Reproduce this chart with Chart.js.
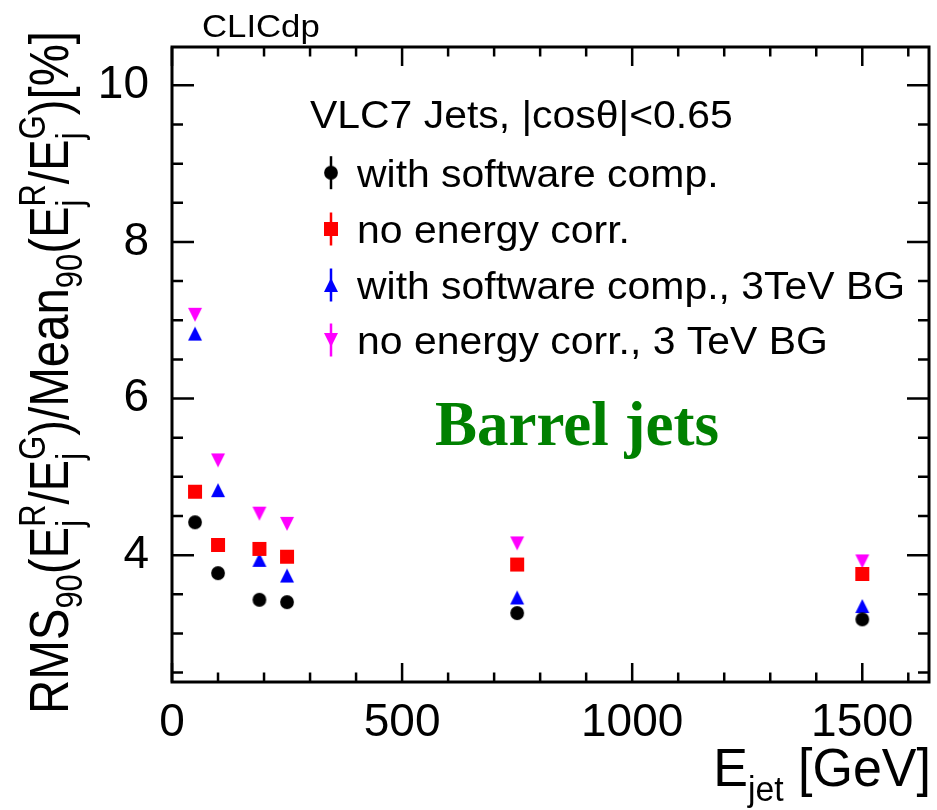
<!DOCTYPE html>
<html>
<head>
<meta charset="utf-8">
<script src="https://cdn.jsdelivr.net/npm/chart.js@4.4.1/dist/chart.umd.min.js"></script>
<style>
  html, body { margin: 0; padding: 0; background: #ffffff; }
  canvas { display: block; }
</style>
</head>
<body>
<canvas id="chart" width="937" height="810"></canvas>
<script>
// Jet energy resolution vs. jet energy, barrel region
const energies = [50, 100, 190, 250, 750, 1500];
const withSoftwareComp = [4.42, 3.77, 3.43, 3.40, 3.26, 3.18];
const noEnergyCorr = [4.81, 4.13, 4.08, 3.98, 3.88, 3.76];
const withSoftwareComp3TeVBG = [6.83, 4.83, 3.94, 3.74, 3.46, 3.35];
const noEnergyCorr3TeVBG = [7.07, 5.21, 4.53, 4.40, 4.15, 3.92];

const seriesLabels = [
  'with software comp.',
  'no energy corr.',
  'with software comp., 3TeV BG',
  'no energy corr., 3 TeV BG'
];
const legendHeader = 'VLC7 Jets, |cos\u03B8|<0.65';
const xTickValues = [0, 500, 1000, 1500];
const yTickValues = [4, 6, 8, 10];

const SANS = '"Liberation Sans", Arial, Helvetica, sans-serif';
const SERIF = '"Liberation Serif", "Times New Roman", serif';

// ROOT-like marker sprites, centred on their bounding box
function makeMarker(shape, color) {
  const s = 18, m = s / 2, h = 7;
  const c = document.createElement('canvas');
  c.width = s; c.height = s;
  const g = c.getContext('2d');
  g.fillStyle = color;
  g.beginPath();
  if (shape === 'circle') {
    g.arc(m, m, 6.9, 0, Math.PI * 2);
  } else if (shape === 'square') {
    g.rect(m - h, m - h, 2 * h, 2 * h);
  } else if (shape === 'up') {
    g.moveTo(m - h, m + h); g.lineTo(m + h, m + h); g.lineTo(m, m - h); g.closePath();
  } else {
    g.moveTo(m - h, m - h); g.lineTo(m + h, m - h); g.lineTo(m, m + h); g.closePath();
  }
  g.fill();
  return c;
}

const seriesStyles = [
  { values: withSoftwareComp,       color: '#000000', marker: makeMarker('circle', '#000000') },
  { values: noEnergyCorr,           color: '#ff0000', marker: makeMarker('square', '#ff0000') },
  { values: withSoftwareComp3TeVBG, color: '#0000ff', marker: makeMarker('up', '#0000ff') },
  { values: noEnergyCorr3TeVBG,     color: '#ff00ff', marker: makeMarker('down', '#ff00ff') }
];

const datasets = seriesStyles.map((s, k) => ({
  label: seriesLabels[k],
  data: energies.map((e, i) => ({ x: e, y: s.values[i] })),
  showLine: false,
  pointStyle: s.marker,
  pointRadius: 8,
  pointHoverRadius: 8,
  backgroundColor: s.color,
  borderColor: s.color,
  borderWidth: 0
}));

// Text with sub/superscripts laid out along +x from the origin (baseline y = 0)
function richWidth(ctx, parts, F, family) {
  let w = 0;
  for (const p of parts) {
    if (p.t !== undefined) {
      ctx.font = (p.sub ? 0.65 * F : F) + 'px ' + family;
      w += ctx.measureText(p.t).width;
    } else {
      ctx.font = (0.65 * F) + 'px ' + family;
      w += Math.max(ctx.measureText(p.sup || '').width, ctx.measureText(p.lo || '').width);
    }
  }
  return w;
}
function richDraw(ctx, parts, F, family, subDrop) {
  let x = 0;
  ctx.textAlign = 'left';
  ctx.textBaseline = 'alphabetic';
  for (const p of parts) {
    if (p.t !== undefined) {
      const sz = p.sub ? 0.65 * F : F;
      ctx.font = sz + 'px ' + family;
      ctx.fillText(p.t, x, p.sub ? subDrop * F : 0);
      x += ctx.measureText(p.t).width;
    } else {
      ctx.font = (0.65 * F) + 'px ' + family;
      if (p.sup) ctx.fillText(p.sup, x, -0.42 * F);
      if (p.lo) ctx.fillText(p.lo, x, subDrop * F);
      x += Math.max(ctx.measureText(p.sup || '').width, ctx.measureText(p.lo || '').width);
    }
  }
}

const yTitleParts = [
  { t: 'RMS' }, { t: '90', sub: true }, { t: '(E' }, { sup: 'R', lo: 'j' }, { t: '/E' }, { sup: 'G', lo: 'j' },
  { t: ')/Mean' }, { t: '90', sub: true }, { t: '(E' }, { sup: 'R', lo: 'j' }, { t: '/E' }, { sup: 'G', lo: 'j' },
  { t: ')[%]' }
];
const xTitleParts = [{ t: 'E' }, { t: 'jet', sub: true }, { t: ' [GeV]' }];

// Frame, inward ticks, legend and annotations
const decorations = {
  id: 'decorations',
  afterDraw(chart) {
    const ctx = chart.ctx;
    const a = chart.chartArea;
    const xs = chart.scales.x, ys = chart.scales.y;
    ctx.save();
    ctx.strokeStyle = '#000';
    ctx.lineCap = 'butt';

    // ticks on all four sides
    ctx.lineWidth = 2.5;
    ctx.beginPath();
    for (let v = 0; v <= xs.max + 1e-9; v += 100) {
      const px = xs.getPixelForValue(v);
      const L = v % 500 === 0 ? 19 : 9.5;
      ctx.moveTo(px, a.bottom); ctx.lineTo(px, a.bottom - L);
      ctx.moveTo(px, a.top); ctx.lineTo(px, a.top + L);
    }
    for (let v = Math.ceil(ys.min * 2) / 2; v <= ys.max + 1e-9; v += 0.5) {
      const py = ys.getPixelForValue(v);
      const L = v % 2 === 0 ? 22 : 11;
      ctx.moveTo(a.left, py); ctx.lineTo(a.left + L, py);
      ctx.moveTo(a.right, py); ctx.lineTo(a.right - L, py);
    }
    ctx.stroke();

    // frame
    ctx.lineWidth = 3;
    ctx.strokeRect(a.left, a.top, a.right - a.left, a.bottom - a.top);

    ctx.fillStyle = '#000';

    // CLICdp label
    ctx.save();
    ctx.font = '31px ' + SANS;
    ctx.translate(202, 37);
    ctx.scale(1.12, 1);
    ctx.textBaseline = 'alphabetic';
    ctx.textAlign = 'left';
    ctx.fillText('CLICdp', 0, 0);
    ctx.restore();

    // legend
    const LF = 39;
    ctx.font = LF + 'px ' + SANS;
    const sx = 548 / ctx.measureText(seriesLabels[2]).width;
    ctx.save();
    ctx.translate(310, 128);
    ctx.scale(sx, 1);
    ctx.fillText(legendHeader, 0, 0);
    ctx.restore();
    const rowY = [172.7, 229, 285, 340];
    const mx = 331;
    seriesStyles.forEach((s, k) => {
      const y = rowY[k];
      ctx.strokeStyle = s.color;
      ctx.lineWidth = 2.5;
      ctx.beginPath();
      ctx.moveTo(mx, y - 16.5); ctx.lineTo(mx, y + 16.5);
      ctx.stroke();
      ctx.drawImage(s.marker, mx - s.marker.width / 2, y - s.marker.height / 2);
      ctx.save();
      ctx.fillStyle = '#000';
      ctx.font = LF + 'px ' + SANS;
      ctx.translate(357, y + 0.358 * LF);
      ctx.scale(sx, 1);
      ctx.fillText(seriesLabels[k], 0, 0);
      ctx.restore();
    });

    // region label
    ctx.fillStyle = '#008000';
    ctx.font = 'bold 63px ' + SERIF;
    ctx.textAlign = 'left';
    ctx.fillText('Barrel jets', 435, 445);

    // x axis title, right-aligned to the frame
    ctx.fillStyle = '#000';
    const XF = 52;
    const xw = richWidth(ctx, xTitleParts, XF, SANS);
    ctx.save();
    ctx.translate(931 - xw, 786);
    ctx.scale(1, 1.04);
    richDraw(ctx, xTitleParts, XF, SANS, 0.27);
    ctx.restore();

    // y axis title, rotated
    const YF = 47;
    const yw = richWidth(ctx, yTitleParts, YF, SANS);
    ctx.save();
    ctx.translate(68, 714);
    ctx.rotate(-Math.PI / 2);
    ctx.scale(683 / yw, 1.19);
    richDraw(ctx, yTitleParts, YF, SANS, 0.25);
    ctx.restore();

    ctx.restore();
  }
};

new Chart(document.getElementById('chart'), {
  type: 'scatter',
  data: { datasets },
  options: {
    responsive: false,
    animation: false,
    events: [],
    layout: { padding: { top: 47, right: 5, left: 0, bottom: 0 } },
    plugins: { legend: { display: false }, tooltip: { enabled: false } },
    scales: {
      x: {
        type: 'linear',
        min: 0,
        max: 1645,
        grid: { display: false },
        border: { display: false },
        ticks: {
          color: '#000',
          font: { family: SANS, size: 46 },
          padding: 6,
          maxRotation: 0,
          autoSkip: false,
          callback: v => String(v)
        },
        afterBuildTicks: s => { s.ticks = xTickValues.map(v => ({ value: v })); },
        afterFit: s => { s.height = 128; }
      },
      y: {
        type: 'linear',
        min: 2.38,
        max: 10.49,
        grid: { display: false },
        border: { display: false },
        ticks: {
          color: '#000',
          font: { family: SANS, size: 46 },
          padding: 15,
          autoSkip: false,
          callback: v => String(v)
        },
        afterBuildTicks: s => { s.ticks = yTickValues.map(v => ({ value: v })); },
        afterFit: s => { s.width = 172; }
      }
    }
  },
  plugins: [decorations]
});
</script>
</body>
</html>
